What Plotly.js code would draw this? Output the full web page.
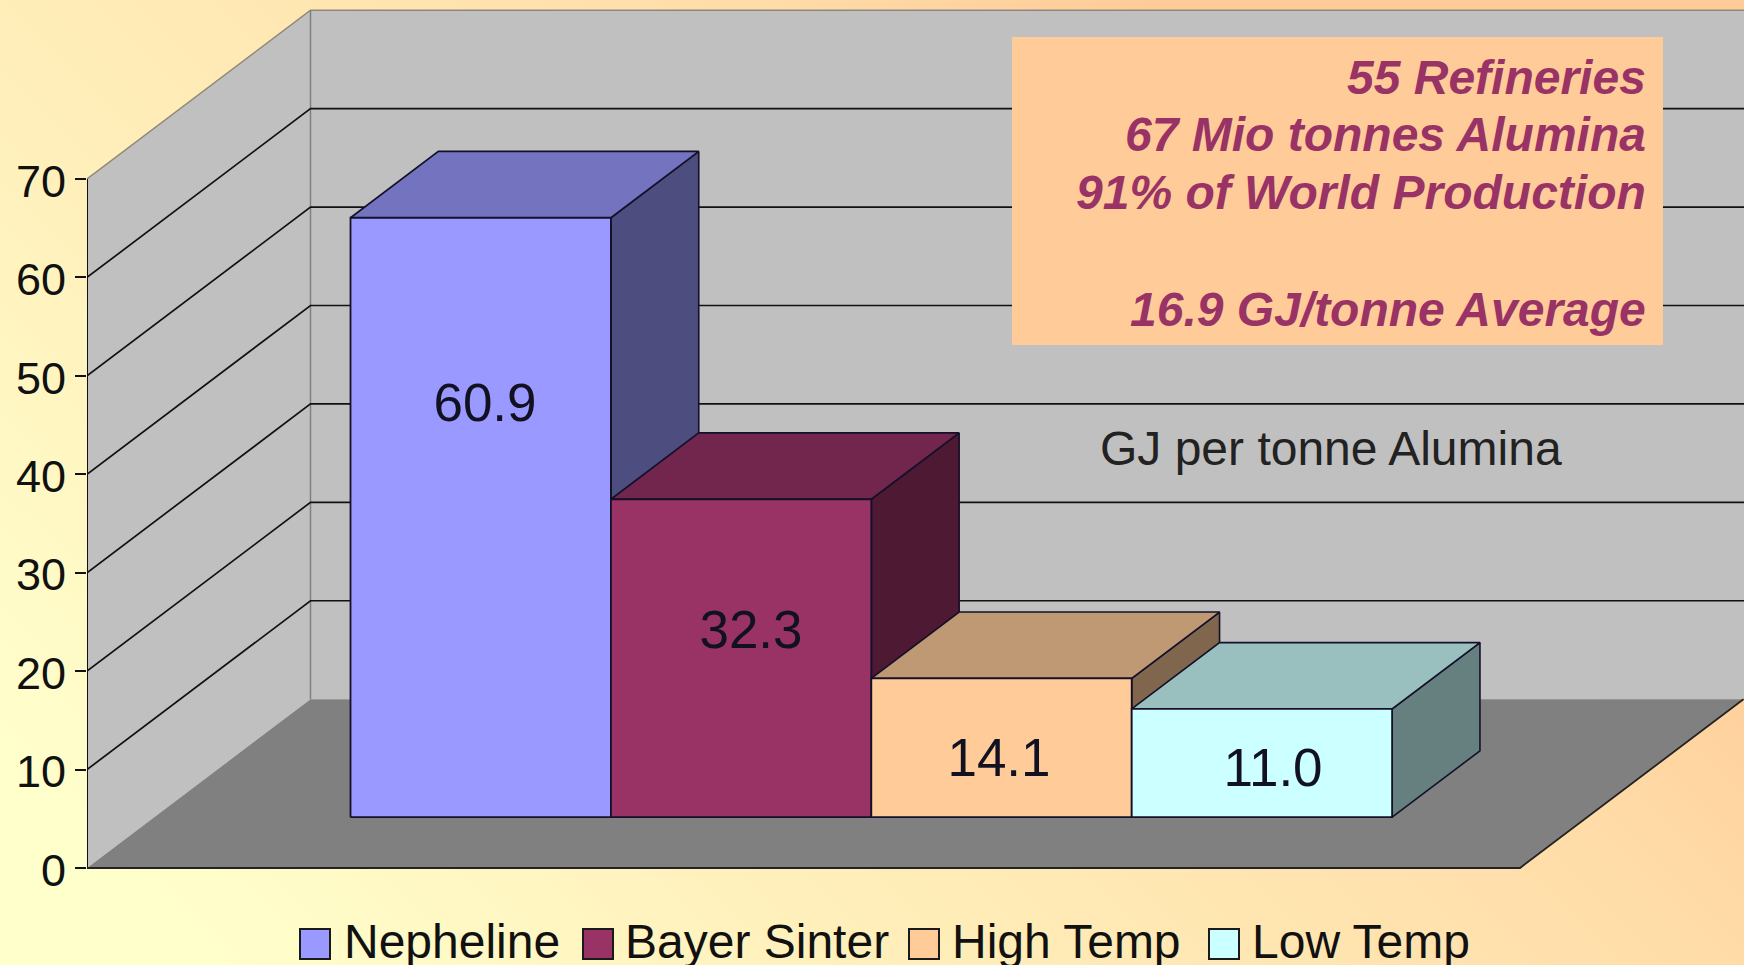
<!DOCTYPE html>
<html>
<head>
<meta charset="utf-8">
<script src="https://cdn.plot.ly/plotly-3.0.1.min.js"></script>
<style>
html,body{margin:0;padding:0;width:1744px;height:965px;overflow:hidden;
background:linear-gradient(45deg,#FFFFCC 8%,#FFEDB8 36%,#FFDCA8 64%,#FFCC99 78%,#FFCC99 100%);}
#chart{width:1744px;height:965px;}
</style>
</head>
<body>
<div id="chart"></div>
<script>
// --- data ---
const categories = ["Nepheline", "Bayer Sinter", "High Temp", "Low Temp"];
const values = [60.9, 32.3, 14.1, 11.0];
const valueLabels = ["60.9", "32.3", "14.1", "11.0"];
const yTicks = [0, 10, 20, 30, 40, 50, 60, 70];
const noteLines = ["55 Refineries", "67 Mio tonnes Alumina", "91% of World Production", "16.9 GJ/tonne Average"];
const unitNote = "GJ per tonne Alumina";
const frontColors = ["#9999FF", "#993366", "#FFCC99", "#CCFFFF"];
const topColors = ["#7373BF", "#73264D", "#BF9973", "#99BFBF"];
const sideColors = ["#4D4D80", "#4D1933", "#80664D", "#668080"];

// --- geometry of the pseudo 3D box ---
const W = 1744, H = 965, L = 87;
const Y0 = 868, PXY = 9.843, PXX = 260.4;     // px of y=0, px per value unit, px per bar
const DX = 223.5 / PXX, DY = 168.8 / PXY;     // wall depth in axis units
const FLOOR = 1433 / PXX, XEND = (W - L) / PXX;
const BAR0 = 0.7536, D0 = 0.301, D1 = 0.694;  // first bar start, bar depth span
const xr = [0, XEND], yr = [(Y0 - H) / PXY, Y0 / PXY];
const ux = p => (p - L) / PXX, uy = p => (Y0 - p) / PXY;
const px = p => (p - L) / (W - L), py = p => 1 - p / H;

function poly(x, y, fill, lineColor, lineWidth) {
  return {type: "scatter", mode: "lines", x: x.concat([x[0]]), y: y.concat([y[0]]), fill: "toself",
    fillcolor: fill, line: {color: lineColor || fill, width: lineWidth === undefined ? 0 : lineWidth},
    hoverinfo: "skip", showlegend: false, cliponaxis: false};
}

const traces = [];
const top70 = yTicks[yTicks.length - 1];
// walls and floor
traces.push(poly([0, DX, DX, 0], [0, DY, top70 + DY, top70], "#C0C0C0"));
traces.push(poly([DX, XEND, XEND, DX], [DY, DY, top70 + DY, top70 + DY], "#C0C0C0"));
traces.push(poly([0, FLOOR, FLOOR + DX, DX], [0, 0, DY, DY], "#808080"));
// wall edges
traces.push({type: "scatter", mode: "lines", x: [0, DX, XEND], y: [top70, top70 + DY, top70 + DY],
  line: {color: "#8f8778", width: 1.5}, hoverinfo: "skip", showlegend: false});
traces.push({type: "scatter", mode: "lines", x: [DX, DX], y: [DY, top70 + DY],
  line: {color: "#808080", width: 1.5}, hoverinfo: "skip", showlegend: false});
// gridlines
const gx = [], gy = [];
yTicks.filter(v => v > 0 && v < top70).forEach(v => {
  gx.push(0, DX, XEND, null);
  gy.push(v, v + DY, v + DY, null);
});
traces.push({type: "scatter", mode: "lines", x: gx, y: gy, line: {color: "#111111", width: 1.7},
  hoverinfo: "skip", showlegend: false});
// y axis line and floor edges
traces.push({type: "scatter", mode: "lines", x: [0, 0], y: [0, top70], line: {color: "#111111", width: 2},
  hoverinfo: "skip", showlegend: false, cliponaxis: false});
traces.push({type: "scatter", mode: "lines", x: [0, FLOOR, FLOOR + DX], y: [0, 0, DY], line: {color: "#222222", width: 1.8},
  hoverinfo: "skip", showlegend: false, cliponaxis: false});

// bars
const edge = "#14102a";
values.forEach((v, i) => {
  const x0 = BAR0 + i + D0 * DX, x1 = x0 + 1, sx = (D1 - D0) * DX, sy = (D1 - D0) * DY, b = D0 * DY, t = v + b;
  traces.push(poly([x1, x1 + sx, x1 + sx, x1], [b, b + sy, t + sy, t], sideColors[i], edge, 1.6));
  traces.push(poly([x0, x1, x1 + sx, x0 + sx], [t, t, t + sy, t + sy], topColors[i], edge, 1.6));
  traces.push(poly([x0, x1, x1, x0], [b, b, t, t], frontColors[i], edge, 1.8));
});

// value labels (placed by hand in the reference)
const labelPx = [[485, 407.5], [751, 634.5], [999, 762.5], [1273, 772.5]];
traces.push({type: "scatter", mode: "text", x: labelPx.map(p => ux(p[0])), y: labelPx.map(p => uy(p[1])),
  text: valueLabels, textposition: "middle center",
  textfont: {family: "Liberation Sans, Arial, sans-serif", size: 53, color: "#111122"},
  hoverinfo: "skip", showlegend: false, cliponaxis: false});

// legend drawn with markers and text so that swatches reach the reference size
const swatchPx = [315, 598, 924, 1224], legendTextPx = [344, 625, 952, 1252];
traces.push({type: "scatter", mode: "markers", x: swatchPx.map(ux), y: swatchPx.map(() => uy(944)),
  marker: {symbol: "square", size: 30, color: frontColors, line: {color: "#1a1a1a", width: 2}},
  hoverinfo: "skip", showlegend: false, cliponaxis: false});
traces.push({type: "scatter", mode: "text", x: legendTextPx.map(ux), y: legendTextPx.map(() => uy(946)),
  text: categories, textposition: "middle right",
  textfont: {family: "Liberation Sans, Arial, sans-serif", size: 48, color: "#111111"},
  hoverinfo: "skip", showlegend: false, cliponaxis: false});

const noteY = [77, 134, 192, 309];
const annotations = noteLines.map((t, i) => ({
  xref: "paper", yref: "paper", x: px(1648), y: py(noteY[i]), xanchor: "right", yanchor: "middle",
  text: "<b><i>" + t + "</i></b>", showarrow: false,
  font: {family: "Liberation Sans, Arial, sans-serif", size: 48, color: "#993366"}
}));
annotations.push({
  xref: "paper", yref: "paper", x: px(1331), y: py(448), xanchor: "center", yanchor: "middle",
  text: unitNote, showarrow: false,
  font: {family: "Liberation Sans, Arial, sans-serif", size: 48, color: "#222222"}
});

const layout = {
  width: W, height: H, margin: {l: L, r: 0, t: 0, b: 0, pad: 0},
  paper_bgcolor: "rgba(0,0,0,0)", plot_bgcolor: "rgba(0,0,0,0)",
  showlegend: false, hovermode: false,
  xaxis: {range: xr, visible: false, fixedrange: true},
  yaxis: {range: yr, tickmode: "array", tickvals: yTicks, ticktext: yTicks.map(String),
    ticks: "outside", ticklen: 11, tickwidth: 2, tickcolor: "#111111", showgrid: false, zeroline: false,
    showline: false, fixedrange: true, ticklabelshift: 2,
    tickfont: {family: "Liberation Sans, Arial, sans-serif", size: 45, color: "#111111"}},
  shapes: [{type: "rect", xref: "paper", yref: "paper", x0: px(1012), x1: px(1663), y0: py(37), y1: py(345),
    fillcolor: "#FFCC99", line: {width: 0}, layer: "above"}],
  annotations: annotations
};
Plotly.newPlot("chart", traces, layout, {displayModeBar: false, responsive: false});
</script>
</body>
</html>
